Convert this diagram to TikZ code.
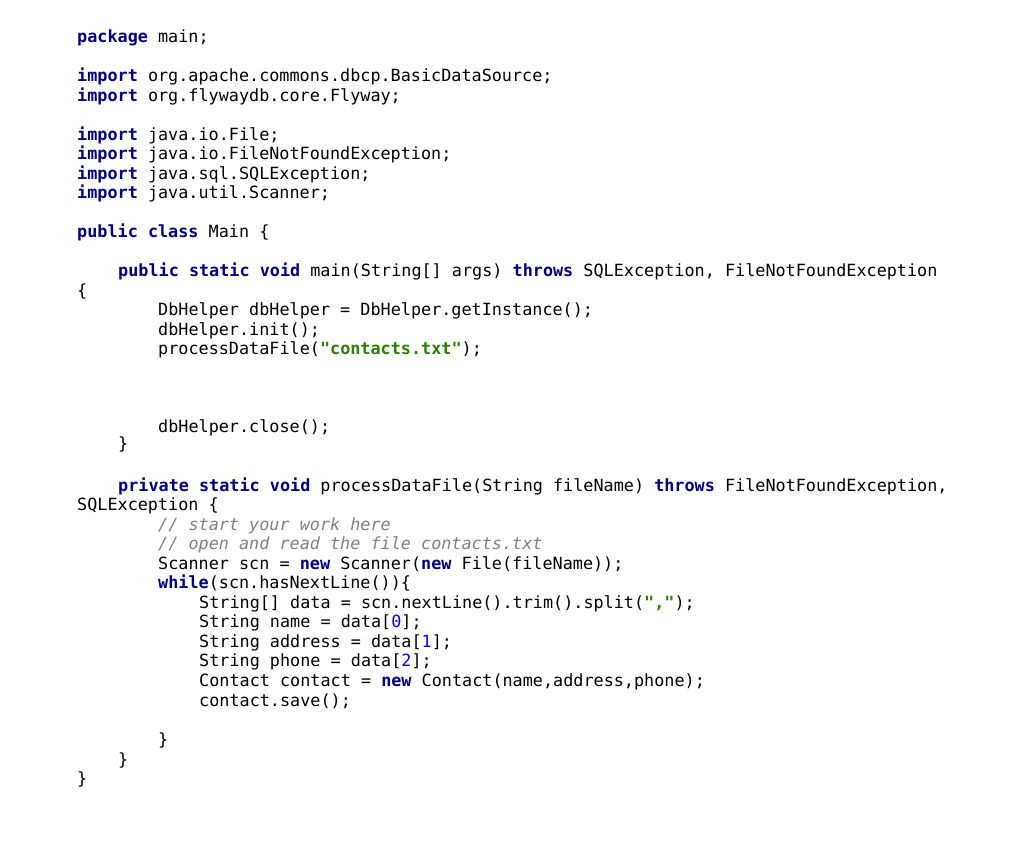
\documentclass[tikz,border=0pt]{standalone}
\usepackage{fontspec}
\newfontfamily\code{DejaVu Sans Mono}
\definecolor{kwc}{HTML}{000080}
\definecolor{strc}{HTML}{2A8000}
\definecolor{cmc}{HTML}{808080}
\definecolor{numc}{HTML}{0000FF}
\newcommand{\kw}[1]{\textcolor{kwc}{\bfseries #1}}
\newcommand{\str}[1]{\textcolor{strc}{\bfseries #1}}
\newcommand{\cm}[1]{\textcolor{cmc}{\itshape #1}}
\newcommand{\nm}[1]{\textcolor{numc}{#1}}
\begin{document}
\begin{tikzpicture}[x=1pt,y=-1pt,ln/.style={anchor=base west,inner sep=0pt,font=\code\fontsize{16.8}{20}\selectfont,text=black}]
\useasboundingbox[fill=white] (0,0) rectangle (1024,860);
\def\L#1#2#3{\node[ln] (n#1) at (#2,#1+6) {#3};}
\L{36}{77}{\kw{package} main;}
\L{75}{77}{\kw{import} org.apache.commons.dbcp.BasicDataSource;}
\L{95}{77}{\kw{import} org.flywaydb.core.Flyway;}
\L{134}{77}{\kw{import} java.io.File;}
\L{153}{77}{\kw{import} java.io.FileNotFoundException;}
\L{173}{77}{\kw{import} java.sql.SQLException;}
\L{192}{77}{\kw{import} java.util.Scanner;}
\L{231}{77}{\kw{public} \kw{class} Main \{}
\L{270}{118}{\kw{public} \kw{static} \kw{void} main(String[] args) \kw{throws} SQLException, FileNotFoundException}
\L{290}{77}{\{}
\L{309}{158}{DbHelper dbHelper = DbHelper.getInstance();}
\L{329}{158}{dbHelper.init();}
\L{348}{158}{processDataFile(\str{"contacts.txt"});}
\L{426}{158}{dbHelper.close();}
\L{443}{118}{\}}
\L{485}{118}{\kw{private} \kw{static} \kw{void} processDataFile(String fileName) \kw{throws} FileNotFoundException,}
\L{504}{77}{SQLException \{}
\L{524}{158}{\cm{// start your work here}}
\L{543}{158}{\cm{// open and read the file contacts.txt}}
\L{563}{158}{Scanner scn = \kw{new} Scanner(\kw{new} File(fileName));}
\L{582}{158}{\kw{while}(scn.hasNextLine())\{}
\L{602}{199}{String[] data = scn.nextLine().trim().split(\str{","});}
\L{621}{199}{String name = data[\nm{0}];}
\L{641}{199}{String address = data[\nm{1}];}
\L{660}{199}{String phone = data[\nm{2}];}
\L{680}{199}{Contact contact = \kw{new} Contact(name,address,phone);}
\L{700}{199}{contact.save();}
\L{739}{158}{\}}
\L{759}{118}{\}}
\L{778}{77}{\}}
\end{tikzpicture}
\end{document}
